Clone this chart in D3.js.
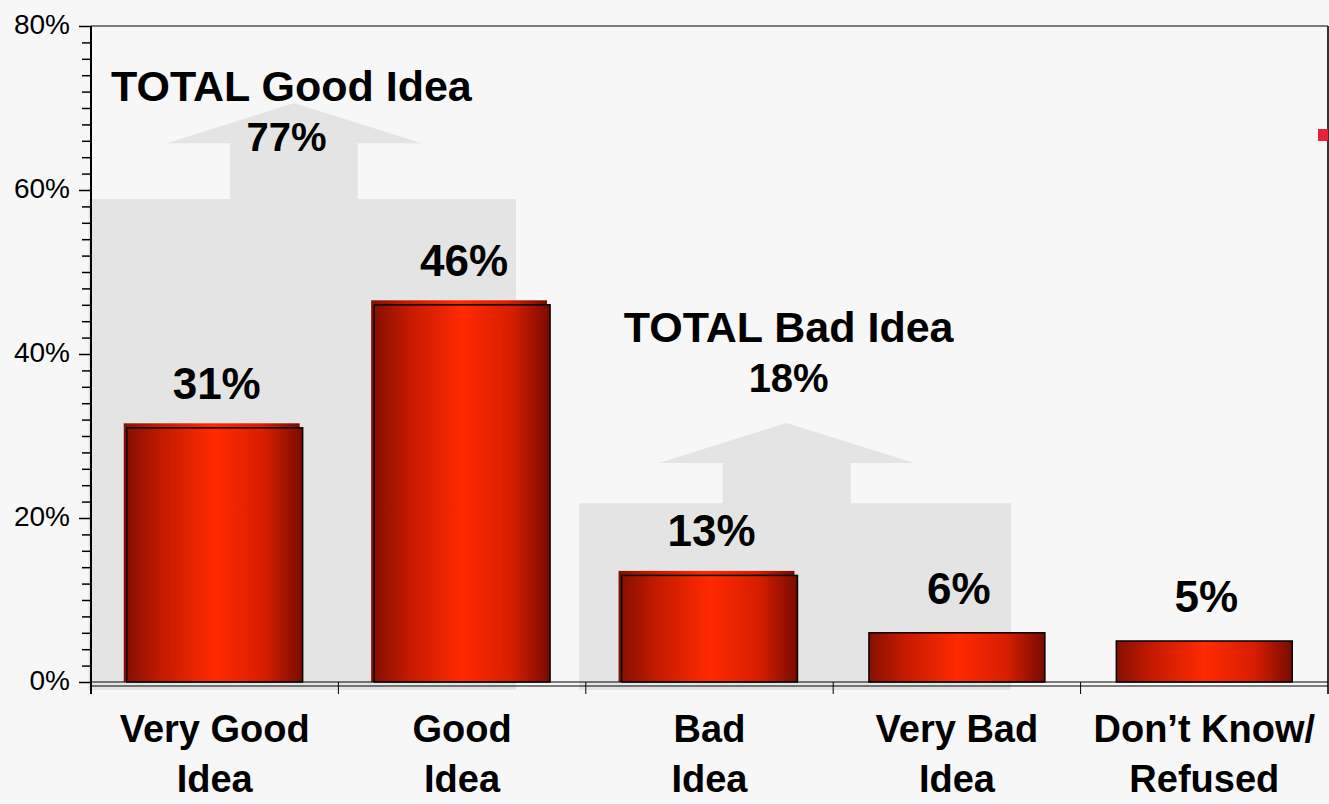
<!DOCTYPE html>
<style>
body {
  margin: 0;
  background: #f7f7f7;
}
svg {
  display: block;
  font-family: "Liberation Sans", Arial, sans-serif;
}
.shade {
  fill: #e4e4e4;
}
.frame {
  stroke: #000;
  stroke-width: 1;
  fill: none;
}
.bigText {
  font-weight: bold;
  fill: #000;
  text-anchor: middle;
}
</style>
<svg width="1329" height="804" viewBox="0 0 1329 804"></svg>
<script src="https://d3js.org/d3.v7.min.js"></script>
<script>

var categories = [["Very Good", "Idea"], ["Good", "Idea"], ["Bad", "Idea"], ["Very Bad", "Idea"], ["Don\u2019t Know/", "Refused"]],
    values = [31, 46, 13, 6, 5],
    yTicks = [0, 20, 40, 60, 80],
    totals = [
      { title: "TOTAL Good Idea", value: 77 },
      { title: "TOTAL Bad Idea", value: 18 }
    ];

var svg = d3.select("svg"),
    plotLeft = 91, plotRight = 1328, plotTop = 26, plotBottom = 682;

var y = d3.scaleLinear().domain([0, 80]).range([plotBottom, plotTop]);
var x = d3.scaleBand()
  .domain(d3.range(categories.length))
  .range([plotLeft, plotRight])
  .paddingInner(0.289)
  .paddingOuter(0.1445);
// category units, used for the grey annotation arrows
var xc = d3.scaleLinear().domain([0, categories.length]).range([plotLeft, plotRight]);

// gradient for the cylinders
var grad = svg.append("defs").append("linearGradient")
  .attr("id", "barGrad")
  .attr("x1", "0%").attr("x2", "100%");
[[0, "#861000"], [0.2, "#c41a00"], [0.5, "#ff2a00"], [0.78, "#d81e00"], [1, "#780b00"]]
  .forEach(s => grad.append("stop").attr("offset", s[0]).attr("stop-color", s[1]));

// grey background arrows
var arrows = [
  { x0: -0.01, x1: 1.718, top: 58.9, s0: 0.562, s1: 1.078, sTop: 65.7, h0: 0.307, h1: 1.337, apex: 0.82, apexY: 70.6 },
  { x0: 1.973, x1: 3.719, top: 21.8, s0: 2.553, s1: 3.071, sTop: 26.7, h0: 2.296, h1: 3.327, apex: 2.812, apexY: 31.6 }
];

arrows.forEach(a => {
  svg.append("rect")
    .attr("class", "shade")
    .attr("x", xc(a.x0))
    .attr("y", y(a.top))
    .attr("width", xc(a.x1) - xc(a.x0))
    .attr("height", plotBottom + 8 - y(a.top));
  svg.append("rect")
    .attr("class", "shade")
    .attr("x", xc(a.s0))
    .attr("y", y(a.sTop))
    .attr("width", xc(a.s1) - xc(a.s0))
    .attr("height", y(a.top) - y(a.sTop) + 1);
  svg.append("path")
    .attr("class", "shade")
    .attr("d", d3.line()([[xc(a.h0), y(a.sTop)], [xc(a.apex), y(a.apexY)], [xc(a.h1), y(a.sTop)]]) + "Z");
});

// frame: top and right border
svg.append("line").attr("class", "frame")
  .attr("x1", plotLeft).attr("x2", plotRight).attr("y1", plotTop).attr("y2", plotTop);
svg.append("line").attr("class", "frame")
  .attr("x1", plotRight).attr("x2", plotRight).attr("y1", plotTop).attr("y2", plotBottom + 12)
  .style("stroke", "#333").style("stroke-width", 2);

// bars: back face then front face
var bars = svg.append("g").selectAll("g")
  .data(values)
  .join("g");

bars.filter((d, i) => i < 3).append("rect")
  .attr("x", (d, i) => x(i) - 3)
  .attr("y", d => y(d) - 4.5)
  .attr("width", x.bandwidth())
  .attr("height", d => plotBottom - y(d) + 4.5)
  .attr("fill", "url(#barGrad)");

bars.append("rect")
  .attr("x", (d, i) => x(i))
  .attr("y", d => y(d))
  .attr("width", x.bandwidth())
  .attr("height", d => plotBottom - y(d))
  .attr("fill", "url(#barGrad)")
  .attr("stroke", "#000")
  .attr("stroke-width", 1.5);

bars.append("text")
  .attr("class", "bigText")
  .attr("x", (d, i) => x(i) + x.bandwidth() / 2 + 2)
  .attr("y", d => y(d) - 29)
  .style("font-size", "44px")
  .text(d => d + "%");

// y axis
var yAxis = svg.append("g")
  .attr("transform", `translate(${plotLeft},0)`)
  .call(d3.axisLeft(y).tickValues(yTicks).tickSize(12).tickFormat(d => d + "%"));
yAxis.select(".domain").attr("d", `M0,${plotTop}V${plotBottom + 12}`).style("stroke-width", 2);
yAxis.selectAll(".tick line").style("stroke-width", 1.5);
yAxis.selectAll("text")
  .attr("x", -21)
  .attr("dy", "0.26em")
  .style("font-size", "28px")
  .style("font-family", "\"Liberation Sans\", Arial, sans-serif")
  .style("fill", "#000");

svg.append("g")
  .attr("transform", `translate(${plotLeft},0)`)
  .call(d3.axisLeft(y).tickValues(d3.range(0, 81, 2).filter(v => v % 20)).tickSize(9).tickFormat(""))
  .call(g => g.select(".domain").remove())
  .selectAll(".tick line").style("stroke-width", 1.5);

// floor lines and category ticks
[plotBottom, plotBottom + 4].forEach(v => {
  svg.append("line").attr("class", "frame")
    .attr("x1", plotLeft).attr("x2", plotRight).attr("y1", v).attr("y2", v);
});
svg.append("g").selectAll("line")
  .data(d3.range(1, categories.length))
  .join("line")
  .attr("class", "frame")
  .attr("x1", d => xc(d)).attr("x2", d => xc(d))
  .attr("y1", plotBottom).attr("y2", plotBottom + 12);

// category labels
svg.append("g").selectAll("text")
  .data(categories)
  .join("text")
  .attr("class", "bigText")
  .attr("x", (d, i) => x(i) + x.bandwidth() / 2)
  .attr("y", 742)
  .style("font-size", "38px")
  .selectAll("tspan")
  .data(d => d)
  .join("tspan")
  .attr("x", function () { return this.parentNode.getAttribute("x"); })
  .attr("dy", (d, i) => i ? 50 : 0)
  .text(d => d);

// total annotations
var totalPos = [
  { cx: 0.81, pcx: 0.79, ty: 70.8, py: 64.7 },
  { cx: 2.82, pcx: 2.82, ty: 41.5, py: 35.4 }
];
totals.forEach((t, i) => {
  var p = totalPos[i];
  svg.append("text").attr("class", "bigText")
    .attr("x", xc(p.cx)).attr("y", y(p.ty))
    .style("font-size", "43px")
    .text(t.title);
  svg.append("text").attr("class", "bigText")
    .attr("x", xc(p.pcx)).attr("y", y(p.py))
    .style("font-size", "40px")
    .text(t.value + "%");
});

// small red marker at right edge
svg.append("rect")
  .attr("x", 1318).attr("y", 129)
  .attr("width", 10).attr("height", 12)
  .attr("fill", "#e8203a");
</script>
